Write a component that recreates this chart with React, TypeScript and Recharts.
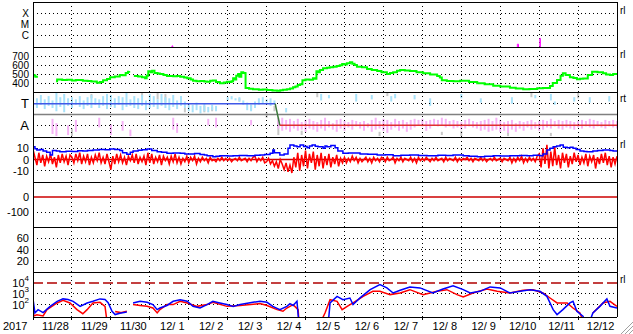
import React from 'react';
import { ComposedChart, Line, Bar, XAxis, YAxis, CartesianGrid, ReferenceLine } from 'recharts';

// ---------- axis / tick data ----------
const DAY_LABELS = ['11/28', '11/29', '11/30', '12/ 1', '12/ 2', '12/ 3', '12/ 4', '12/ 5', '12/ 6', '12/ 7', '12/ 8', '12/ 9', '12/10', '12/11', '12/12'];
const YEAR_LABEL = '2017';
const DAY_LINES = [1, 2, 3, 4, 5, 6, 7, 8, 9, 10, 11, 12, 13, 14];
const LABEL_DAYS = [0.5, 1.5, 2.5, 3.5, 4.5, 5.5, 6.5, 7.5, 8.5, 9.5, 10.5, 11.5, 12.5, 13.5, 14.5];
const SIDE_LABELS = ['rl', 'rl', 'rt', 'rl', 'rl'];

// ---------- panel 1: X-ray class (log10 flux) ----------
const XRAY_TICKS = [-4, -5, -6];
const XRAY_NAMES: Record<string, string> = { '-4': 'X', '-5': 'M', '-6': 'C' };
const XRAY: [number, number | null][] = [
  [3.57, -7.5], [3.57, -6.9], [3.59, -6.9], [3.59, -7.5], [3.6, null],
  [12.44, -7.5], [12.44, -6.75], [12.47, -6.75], [12.47, -7.5], [12.5, null],
  [13.02, -7.5], [13.02, -6.23], [13.03, -6.23], [13.03, -7.5],
];

// ---------- panel 2: solar wind speed ----------
const SPEED_TICKS = [700, 600, 500, 400];
const SPEED: [number, number | null][] = [
  [0, 490], [0.03, 482], [0.06, 470], [0.1, 458], [0.11, null],
  [0.59, 420], [0.62, 438], [0.75, 432], [0.87, 436], [1.0, 428], [1.1, 432], [1.28, 426], [1.4, 422], [1.5, 418], [1.64, 404], [1.72, 410], [1.8, 430], [1.9, 445], [1.98, 463], [2.1, 472], [2.23, 489], [2.3, 486], [2.38, 510], [2.44, 526], [2.47, 532], [2.48, null],
  [2.59, 478], [2.7, 472], [2.8, 465], [2.88, 452], [2.92, 480], [2.96, 530], [3.02, 520], [3.06, 537], [3.12, 512], [3.2, 505], [3.26, 500], [3.35, 490], [3.44, 478], [3.6, 475], [3.7, 478], [3.78, 470], [3.88, 462], [3.96, 452], [4.05, 440], [4.11, 426], [4.2, 420], [4.3, 422], [4.4, 418], [4.47, 415], [4.55, 425], [4.62, 428], [4.7, 410], [4.8, 396], [4.9, 405], [4.98, 415], [5.05, 412], [5.1, 420], [5.14, 452], [5.18, 440], [5.22, 480], [5.27, 500], [5.3, 470], [5.35, 520], [5.4, 510], [5.45, 507], [5.46, 345], [5.55, 335], [5.65, 330], [5.8, 325], [5.9, 328], [6.01, 322], [6.15, 318], [6.27, 315], [6.35, 320], [6.42, 325], [6.52, 330], [6.6, 340], [6.68, 352], [6.74, 360], [6.8, 378], [6.86, 385], [6.92, 430], [7.0, 440], [7.1, 435], [7.19, 452], [7.24, 448], [7.28, 530], [7.32, 520], [7.37, 545], [7.45, 563], [7.55, 570], [7.62, 575], [7.71, 581], [7.8, 590], [7.88, 598], [7.94, 611], [8.0, 605], [8.06, 620], [8.14, 630], [8.2, 615], [8.26, 600], [8.32, 581], [8.45, 575], [8.58, 556], [8.7, 545], [8.84, 533], [8.95, 520], [9.09, 500], [9.17, 510], [9.25, 520], [9.35, 535], [9.43, 544], [9.55, 538], [9.68, 533], [9.85, 520], [10.02, 507], [10.2, 495], [10.38, 478], [10.45, 460], [10.5, 430], [10.63, 422], [10.8, 420], [10.97, 425], [11.2, 410], [11.41, 396], [11.6, 385], [11.82, 370], [12.0, 362], [12.25, 348], [12.4, 340], [12.59, 330], [12.75, 333], [12.95, 341], [13.1, 345], [13.28, 367], [13.35, 400], [13.46, 433], [13.55, 480], [13.61, 507], [13.68, 490], [13.79, 463], [13.88, 455], [13.97, 441], [14.05, 448], [14.13, 450], [14.25, 490], [14.36, 526], [14.5, 520], [14.64, 507], [14.72, 495], [14.82, 489], [14.9, 500], [15.0, 495],
];

// ---------- panel 3: sector polarity (T / A) ----------
const SECTOR_TICKS = [1, -1];
const SECTOR_NAMES: Record<string, string> = { '1': 'T', '-1': 'A' };
const SECTOR_SWITCH = [6.22, 6.34];
const CYAN: [number, number, number][] = [
  [0.0, 0.7, 1.7], [0.1, 0.6, 1.5], [0.2, 0.9, 1.8], [0.3, 0.5, 1.4], [0.4, 0.8, 1.7], [0.5, 0.6, 1.3], [0.6, 0.3, 2.0], [0.7, 0.7, 1.6], [0.8, 0.2, 1.9], [0.9, 0.8, 1.5],
  [1.0, 0.6, 1.6], [1.1, 0.9, 1.4], [1.2, 0.7, 1.7], [1.3, 0.5, 1.3], [1.4, 0.8, 1.6], [1.5, 0.6, 1.8], [1.6, 0.9, 1.5], [1.7, 0.6, 1.4], [1.8, 0.8, 1.7], [1.9, 0.5, 1.9],
  [2.0, 0.7, 1.8], [2.1, 0.6, 1.5], [2.2, 0.9, 1.7], [2.3, 0.4, 1.6], [2.4, 0.7, 2.0], [2.5, 0.8, 1.4], [2.6, 0.6, 1.7], [2.7, 0.5, 1.5], [2.8, 0.8, 1.8], [2.9, 0.4, 1.3],
  [3.0, 0.6, 1.9], [3.1, 0.7, 1.7], [3.2, 0.5, 1.4], [3.3, 0.8, 1.9], [3.4, 0.6, 1.6], [3.5, 0.4, 1.5], [3.6, 0.7, 1.8], [3.7, 0.5, 1.3], [3.8, 0.8, 1.7], [3.9, 0.6, 1.2],
  [4.0, 0.3, 1.0], [4.1, 0.2, 0.9], [4.2, 0.4, 1.1], [4.3, 0.1, 0.8], [4.4, 0.3, 1.0], [4.5, 0.2, 0.7], [4.6, 0.4, 0.9], [4.7, 0.3, 0.8],
  [5.0, 1.3, 1.6], [5.1, 1.4, 1.7], [5.2, 1.3, 1.5], [5.3, 1.2, 1.6], [5.4, 0.9, 1.3], [5.5, 0.4, 1.1], [5.6, 0.3, 0.9], [5.7, 0.6, 1.2], [5.8, 0.9, 1.5], [5.9, 1.0, 1.6],
  [6.0, 1.1, 1.4], [6.1, 0.8, 1.5], [6.2, 1.0, 1.3], [6.5, 0.2, 0.6], [7.4, 1.3, 1.9], [7.6, 1.5, 1.8], [8.3, 1.2, 1.9], [8.7, 1.4, 1.8], [9.2, 1.2, 1.7], [9.3, 1.5, 1.9],
  [9.8, 1.4, 1.8], [10.2, 0.8, 1.5], [11.0, 1.5, 1.9], [11.5, 1.1, 1.5], [12.3, 1.0, 1.6], [12.9, 1.5, 1.8], [13.3, 1.3, 1.9], [13.4, 0.9, 1.2], [13.9, 1.2, 1.6], [14.3, 1.1, 1.6], [14.8, 1.2, 1.7],
];
const PINK_SPARSE: [number, number, number][] = [
  [0.5, -1.8, -0.4], [0.6, -2.0, -0.8], [0.9, -1.9, -1.0], [1.1, -1.6, -0.5], [1.7, -1.2, -0.3], [2.0, -1.9, -0.9], [2.3, -1.5, -0.6], [2.5, -2.0, -1.4],
  [3.6, -1.4, -0.3], [3.7, -1.7, -0.8], [4.5, -1.0, -0.4], [4.7, -1.2, -0.3], [5.6, -1.0, -0.5], [6.3, -1.3, -0.3],
];
const PINK_BAND_START = 6.4;
const PINK_BAND: [number, number][] = [
  [-1.5, -0.3], [-1.4, -0.5], [-1.6, -0.4], [-1.3, -0.6], [-1.5, -0.4], [-1.4, -0.7], [-1.6, -0.5], [-1.3, -0.4], [-1.4, -0.6], [-1.6, -0.7],
  [-1.3, -0.5], [-1.5, -0.3], [-1.2, -0.6], [-1.4, -0.8], [-1.6, -0.5], [-1.3, -0.4], [-1.5, -0.6], [-1.2, -0.7], [-1.4, -0.5], [-1.1, -0.6],
  [-1.3, -0.7], [-1.5, -0.6], [-1.2, -0.8], [-1.6, -0.5], [-1.4, -0.3], [-1.3, -0.6], [-1.5, -0.4], [-1.7, -0.5], [-1.4, -0.7], [-1.2, -0.4],
  [-1.5, -0.6], [-1.3, -0.5], [-1.6, -0.7], [-1.4, -0.5], [-1.2, -0.4], [-1.0, -0.5], [-1.1, -0.4], [-1.5, -0.6], [-1.3, -0.5], [-1.0, -0.4],
  [-1.1, -0.5], [-1.0, -0.3], [-1.2, -0.4], [-1.1, -0.6], [-1.3, -0.5], [-1.2, -0.6], [-1.4, -0.7], [-1.3, -0.5], [-1.1, -0.4], [-1.2, -0.6],
  [-1.3, -0.7], [-1.5, -0.6], [-1.4, -0.5], [-1.6, -0.4], [-1.5, -0.6], [-1.4, -0.3], [-1.6, -0.5], [-1.5, -0.7], [-1.7, -0.6], [-1.4, -0.5],
  [-1.6, -0.8], [-1.3, -0.6], [-1.5, -0.7], [-1.2, -0.6], [-1.4, -0.5], [-1.3, -0.7], [-1.5, -0.6], [-1.4, -0.5], [-1.2, -0.6], [-1.3, -0.4],
  [-1.1, -0.6], [-1.3, -0.5], [-1.4, -0.6], [-1.2, -0.5], [-1.3, -0.6], [-1.4, -0.7], [-1.2, -0.6], [-1.3, -0.5], [-1.1, -0.6], [-1.2, -0.4],
  [-1.3, -0.5], [-1.1, -0.6], [-1.2, -0.7], [-1.3, -0.5], [-1.1, -0.6], [-1.2, -0.5], [-1.3, -0.6],
];
const GRAY: [number, number, number][] = [
  [1.0, -2.0, -1.3], [1.5, 1.5, 1.9], [2.8, 1.6, 2.0], [3.2, 1.4, 2.0], [3.4, 1.1, 1.9], [3.9, 0.2, 0.6], [4.4, 0.2, 0.8], [4.6, 0.3, 0.7],
  [5.3, 1.2, 1.5], [5.6, 0.4, 0.9], [6.0, -0.3, 0.2], [6.2, 0.3, 0.8], [6.3, -1.9, -0.5], [6.9, -1.9, -1.5], [7.3, 1.6, 2.0], [8.9, -2.0, -1.6],
  [9.1, 1.7, 2.0], [10.5, -1.9, -1.6], [11.0, -2.0, -1.5], [12.2, -2.0, -1.6], [12.8, 1.6, 2.0], [13.3, -2.0, -1.7], [14.0, 1.5, 2.0],
];

// ---------- panel 4: IMF Bt / Bz ----------
const IMF_TICKS = [10, 0, -10];
const BT: [number, number][] = [
  [0, 11.4], [0.05, 9.5], [0.1, 8.4], [0.18, 9], [0.26, 7.6], [0.35, 6.5], [0.44, 4], [0.5, 8], [0.6, 7.5], [0.69, 7], [0.85, 7.4], [1.0, 7.2], [1.15, 7.8], [1.28, 7.6], [1.4, 8], [1.54, 8.4], [1.7, 8.8], [1.85, 8.6], [1.98, 9.3], [2.1, 8.8], [2.23, 8], [2.3, 6], [2.41, 4.6], [2.5, 6.5], [2.57, 7.6], [2.7, 8.2], [2.8, 8.6], [2.93, 9.3], [3.05, 8], [3.19, 7], [3.3, 6.5], [3.44, 5.5], [3.6, 5.8], [3.78, 5.5], [3.9, 5], [4.03, 4.9], [4.15, 5.3], [4.29, 4.5], [4.4, 4], [4.47, 3.4], [4.62, 2.5], [4.7, 3], [4.8, 3.4], [5.0, 3.2], [5.14, 3.4], [5.3, 3.6], [5.5, 3.4], [5.7, 3.8], [5.83, 4], [5.95, 4.5], [6.09, 5.5], [6.16, 8.4], [6.2, 6], [6.34, 4], [6.45, 5], [6.55, 10], [6.6, 12.9], [6.7, 12], [6.78, 11.4], [6.86, 12.9], [6.95, 11.5], [7.04, 10.5], [7.1, 12], [7.17, 12.9], [7.25, 11.8], [7.32, 11.4], [7.45, 10], [7.5, 12], [7.55, 11.4], [7.65, 12.5], [7.76, 10.5], [7.83, 7.6], [7.96, 5.5], [8.1, 5.8], [8.4, 5], [8.6, 4.6], [8.84, 4], [9.05, 4.3], [9.25, 3.4], [9.45, 3.8], [9.68, 4], [9.9, 3.6], [10.12, 3.4], [10.4, 3.8], [10.6, 3.5], [10.79, 4], [11.05, 3.4], [11.2, 3], [11.41, 2.5], [11.6, 3], [11.82, 3.4], [12.0, 3.2], [12.25, 3.4], [12.5, 3.6], [12.69, 3.4], [12.85, 3.8], [13.02, 3.4], [13.1, 5], [13.2, 8.4], [13.28, 10], [13.36, 11.4], [13.45, 12], [13.54, 12.9], [13.62, 11], [13.72, 10.5], [13.8, 11], [13.87, 10], [13.95, 9], [14.05, 7.6], [14.15, 7.2], [14.23, 7], [14.38, 7.6], [14.5, 8], [14.64, 8.4], [14.82, 8], [14.9, 7.6], [15, 7],
];
const BZ_STEP = 0.05;
const BZ: number[] = [
  9, 2, -5, 6, -3, 4, -6, 3, -2, 5, -4, 2, -7, 4, -3, 5, -2, 3, -5, 4,
  2, -3, 5, -1, 6, -4, 3, -2, 5, -5, 2, -3, 4, -1, 6, -3, 2, -4, 5, -2,
  -9, 3, -4, 5, -2, 4, -3, 2, -5, 3, -1, 4, -3, 5, -4, 2, -2, 3, -5, 6,
  -3, 5, -4, 2, -2, 4, -5, 3, -1, 2, -4, 3, -2, 5, -3, 2, -4, 1, -2, 3,
  -3, 2, -1, 3, -4, 1, -2, 2, -1, 1, -3, 2, -1, 0, -2, 1, -1, 2, -1, 1,
  -1, 1, -2, 0, 1, -1, 2, -1, 0, 1, -2, 1, -1, 2, 3, -2, 1, -1, 2, -3,
  -2, 1, -4, -1, -6, -2, -8, 0, -4, -9, -3, -11, -5, -12, 2, -7, 6, -10, 4, -6,
  8, -8, 5, -3, 7, -9, 4, -6, 6, -8, 3, -5, 5, -7, 2, -4, 4, -6, 1, -3,
  2, -3, 1, -2, 3, -1, 2, -3, 1, -2, 0, 2, -2, 1, -3, 2, -1, 1, -2, 2,
  1, -2, 2, -1, 0, 2, -3, 1, -1, 2, -2, 1, 0, -1, 2, -2, 1, -3, 2, -1,
  1, -1, 2, 0, -2, 1, -1, 2, -1, 0, 1, -2, 2, -1, 1, 0, -1, 2, -2, 1,
  -1, 1, 0, 2, -1, 1, -2, 1, 0, -1, 2, -1, 1, -2, 0, 1, -1, 2, -1, 0,
  1, -2, 1, 0, -1, 2, -3, 1, -2, 2, -1, 3, -3, 1, -2, 2, -1, 1, -2, 3,
  5, -7, 10, -4, 13, -8, 7, -6, 11, -5, 4, -8, 6, -3, 5, -7, 3, -4, 6, -2,
  4, -5, 2, -3, 5, -6, 3, -2, 4, -8, 2, -4, 5, -3, 6, -5, 3, -7, 2, -4,
  3,
];

// ---------- panel 5 / 6: empty panels ----------
const DST_TICKS = [0, -100];
const KP_TICKS = [60, 40, 20];

// ---------- panel 7: electron flux (log10) ----------
const FLUX_TICKS = [4, 3, 2];
const FLUX_ALERT = 4;
const FLUX_BLUE: [number, number | null][] = [
  [0, 2.55], [0.05, 1.27], [0.13, 1.57], [0.26, 1.3], [0.44, 1.87], [0.62, 2.33], [0.77, 2.55], [0.9, 2.5], [1.03, 2.33], [1.21, 1.87], [1.39, 2.18], [1.54, 2.33], [1.72, 2.55], [1.85, 2.5], [1.93, 2.2], [2.03, 1.42], [2.11, 1.12], [2.23, 1.25], [2.41, 1.35], [2.45, null],
  [2.57, 2.18], [2.75, 2.33], [2.93, 2.25], [3.08, 2.03], [3.19, 1.57], [3.26, 1.72], [3.44, 1.95], [3.6, 2.33], [3.78, 2.48], [3.96, 2.33], [4.11, 1.87], [4.29, 1.73], [4.47, 2.03], [4.62, 2.33], [4.8, 2.18], [4.98, 2.03], [5.14, 1.87], [5.32, 2.03], [5.65, 2.24], [5.83, 2.33], [6.01, 2.24], [6.16, 1.87], [6.34, 1.57], [6.52, 1.87], [6.6, 2.12], [6.68, 1.95], [6.78, 2.33], [6.81, 1.1], [6.83, 0.5], [6.85, null],
  [7.55, 0.5], [7.6, 0.96], [7.63, 2.18], [7.81, 2.78], [7.96, 2.48], [8.14, 2.63], [8.22, 2.03], [8.4, 2.64], [8.66, 3.39], [8.91, 3.85], [9.09, 3.55], [9.25, 3.09], [9.43, 3.33], [9.68, 3.64], [9.94, 3.55], [10.27, 3.09], [10.53, 3.45], [10.79, 3.75], [11.05, 3.39], [11.23, 3.09], [11.48, 3.24], [11.74, 3.64], [12.0, 3.55], [12.25, 3.09], [12.51, 3.24], [12.77, 3.39], [13.02, 3.24], [13.2, 2.78], [13.36, 1.57], [13.46, 1.12], [13.61, 1.57], [13.79, 2.18], [13.87, 2.33], [13.97, 1.42], [14.13, 0.96], [14.15, 0.5], [14.2, null],
  [14.3, 0.5], [14.38, 1.27], [14.56, 1.87], [14.74, 2.55], [14.82, 1.87], [15.0, 1.72],
];
const FLUX_RED: [number, number | null][] = [
  [0, 2.0], [0.02, 1.0], [0.1, 1.1], [0.26, 1.0], [0.36, 1.57], [0.62, 2.18], [0.77, 2.42], [0.95, 2.18], [1.13, 1.57], [1.28, 1.2], [1.39, 1.57], [1.54, 2.18], [1.72, 2.24], [1.85, 1.87], [1.9, 0.5], [1.95, null],
  [2.11, 1.4], [2.25, 1.3], [2.41, 1.42], [2.45, null],
  [2.57, 2.03], [2.75, 1.95], [2.93, 1.87], [3.08, 1.72], [3.19, 1.27], [3.26, 1.57], [3.44, 2.03], [3.6, 2.03], [3.78, 2.33], [3.96, 2.18], [4.21, 1.87], [4.47, 2.03], [4.62, 2.24], [4.98, 1.87], [5.32, 1.95], [5.83, 2.12], [6.01, 1.95], [6.27, 1.57], [6.42, 1.42], [6.52, 1.72], [6.68, 2.03], [6.81, 1.57], [6.83, 0.5], [6.85, null],
  [7.4, 0.5], [7.5, 1.27], [7.63, 2.48], [7.81, 2.33], [7.94, 1.57], [8.07, 1.87], [8.22, 2.18], [8.48, 2.78], [8.73, 3.24], [8.91, 3.24], [9.17, 2.94], [9.43, 3.09], [9.68, 3.39], [10.02, 2.94], [10.38, 3.24], [10.63, 3.39], [10.89, 2.94], [11.05, 2.73], [11.3, 3.09], [11.66, 3.45], [11.92, 3.24], [12.25, 3.09], [12.59, 3.33], [12.84, 3.39], [13.1, 3.09], [13.28, 2.63], [13.46, 2.18], [13.72, 2.18], [13.87, 1.72], [14.05, 1.27], [14.13, 0.5], [14.2, null],
  [14.38, 1.27], [14.64, 2.18], [14.82, 2.33], [15.0, 1.87],
];

// ---------- helpers ----------
const W = 633;
const LEFT = 33;
const RIGHT = 16;
const PH = 45;
const DAYS = 15;
const HALF_DAY_PX = (W - LEFT - RIGHT) / DAYS / 2;
const FONT = '"Liberation Sans", Arial, sans-serif';
const PANEL_TOPS = [2, 47, 92, 137, 182, 227, 272];
const SECTOR_DOMAIN: [number, number] = [-2.08, 2.08];

const rows = (pts: [number, number | null][]) => pts.map(([x, v]) => ({ x, v }));
const bzRows = BZ.map((v, i) => ({ x: +(i * BZ_STEP).toFixed(2), v }));

const keyOf = (d: number) => Math.round(d * 10);
const cyanMap = new Map(CYAN.map(([d, lo, hi]) => [keyOf(d), [lo, hi]]));
const pinkMap = new Map(PINK_SPARSE.map(([d, lo, hi]) => [keyOf(d), [lo, hi]]));
PINK_BAND.forEach((r, i) => pinkMap.set(keyOf(PINK_BAND_START) + i, r));
const grayMap = new Map(GRAY.map(([d, lo, hi]) => [keyOf(d), [lo, hi]]));
const sectorRows = Array.from({ length: DAYS * 10 + 1 }, (_, i) => ({
  x: i / 10,
  cyan: cyanMap.get(i) ?? null,
  pink: pinkMap.get(i) ?? null,
  gray: grayMap.get(i) ?? null,
}));

const yTick = (fmt: (v: number) => React.ReactNode, fontSize = 11) => (props: any) => {
  const { x, y, payload } = props;
  return (
    <text x={x} y={y} textAnchor="end" dominantBaseline="central" fontSize={fontSize} fill="#000" fontFamily={FONT}>
      {fmt(payload.value)}
    </text>
  );
};

const xTick = (props: any) => {
  const { x, y, payload } = props;
  const i = Math.floor(payload.value);
  return (
    <g>
      <line x1={x - HALF_DAY_PX} x2={x - HALF_DAY_PX} y1={y} y2={y + 3} stroke="#000" shapeRendering="crispEdges" />
      <text x={x + 3} y={y + 12.5} textAnchor="middle" fontSize={11} fill="#000" fontFamily={FONT}>{DAY_LABELS[i]}</text>
      {i === 0 ? <text x={3} y={y + 12.5} fontSize={11} fill="#000" fontFamily={FONT}>{YEAR_LABEL}</text> : null}
    </g>
  );
};

const frame = (ymin: number, ymax: number, bottom = false) => [
  <ReferenceLine key="ft" y={ymax} stroke="#000" shapeRendering="crispEdges" />,
  <ReferenceLine key="fl" x={0} stroke="#000" shapeRendering="crispEdges" />,
  <ReferenceLine key="fr" x={DAYS} stroke="#000" shapeRendering="crispEdges" />,
  bottom ? <ReferenceLine key="fb" y={ymin} stroke="#000" shapeRendering="crispEdges" /> : null,
];

type PanelProps = {
  index: number;
  domain: [number, number];
  ticks: number[];
  grid: number[];
  fmt: (v: number) => React.ReactNode;
  fontSize?: number;
  data?: any[];
  bottom?: boolean;
  children?: React.ReactNode;
};

function Panel({ index, domain, ticks, grid, fmt, fontSize, data, bottom, children }: PanelProps) {
  const top = PANEL_TOPS[index];
  const h = PH + 1 + (bottom ? 17 : 1);
  return (
    <div style={{ position: 'absolute', left: 0, top: top - 1 }}>
      <ComposedChart width={W} height={h} data={data} margin={{ top: 1, right: RIGHT, bottom: bottom ? 0 : 1, left: 0 }}>
        <XAxis
          type="number"
          dataKey="x"
          domain={[0, DAYS]}
          allowDataOverflow
          hide={!bottom}
          ticks={LABEL_DAYS}
          interval={0}
          height={17}
          axisLine={false}
          tickLine={false}
          tickSize={0}
          tickMargin={0}
          tick={xTick}
        />
        <YAxis
          type="number"
          domain={domain}
          allowDataOverflow
          ticks={ticks}
          interval={0}
          width={LEFT}
          axisLine={false}
          tickLine={false}
          tickSize={0}
          tickMargin={4}
          tick={yTick(fmt, fontSize)}
        />
        <CartesianGrid
          stroke="#000"
          strokeDasharray="1 3"
          verticalValues={DAY_LINES}
          horizontalValues={grid}
          shapeRendering="crispEdges"
        />
        {children}
        {frame(domain[0], domain[1], bottom)}
      </ComposedChart>
    </div>
  );
}

// one range-bar series per layer, so the streaks are not grouped side by side
function StreakLayer({ dataKey, fill }: { dataKey: string; fill: string }) {
  const top = PANEL_TOPS[2];
  return (
    <div style={{ position: 'absolute', left: 0, top: top - 1 }}>
      <ComposedChart width={W} height={PH + 2} data={sectorRows} margin={{ top: 1, right: RIGHT, bottom: 1, left: LEFT }}>
        <XAxis type="number" dataKey="x" domain={[0, DAYS]} hide allowDataOverflow />
        <YAxis type="number" domain={SECTOR_DOMAIN} hide allowDataOverflow />
        <Bar dataKey={dataKey} fill={fill} barSize={2} isAnimationActive={false} />
      </ComposedChart>
    </div>
  );
}

const pow10 = (v: number) => [
  <tspan key="b">10</tspan>,
  <tspan key="e" dy={-5} fontSize={8}>{v}</tspan>,
];

export default function App() {
  return (
    <div style={{ position: 'absolute', left: 0, top: 0, width: W, height: 334, background: '#fff', fontFamily: FONT, overflow: 'hidden' }}>
      {/* X-ray */}
      <Panel index={0} domain={[-7, -3]} ticks={XRAY_TICKS} grid={XRAY_TICKS} fmt={(v) => XRAY_NAMES[String(v)]} fontSize={10}>
        <Line data={rows(XRAY)} dataKey="v" stroke="#ff00ff" strokeWidth={1} dot={false} isAnimationActive={false} connectNulls={false} />
      </Panel>

      {/* speed */}
      <Panel index={1} domain={[300, 800]} ticks={SPEED_TICKS} grid={SPEED_TICKS} fmt={(v) => v} fontSize={10}>
        <Line data={rows(SPEED)} dataKey="v" type="stepAfter" stroke="#00ff00" strokeWidth={2} dot={false} isAnimationActive={false} connectNulls={false} />
      </Panel>

      {/* sector streaks */}
      <StreakLayer dataKey="gray" fill="#c8c8c8" />
      <StreakLayer dataKey="pink" fill="#f6b2f6" />
      <StreakLayer dataKey="cyan" fill="#a8e2fa" />
      <Panel index={2} domain={SECTOR_DOMAIN} ticks={SECTOR_TICKS} grid={SECTOR_TICKS} fmt={(v) => SECTOR_NAMES[String(v)]} fontSize={13}>
        <ReferenceLine y={0} stroke="#808080" strokeWidth={1.5} />
        <ReferenceLine segment={[{ x: 0, y: 1 }, { x: SECTOR_SWITCH[0], y: 1 }]} stroke="#4058e8" strokeWidth={1.5} />
        <ReferenceLine segment={[{ x: SECTOR_SWITCH[0], y: 1 }, { x: SECTOR_SWITCH[1], y: -1 }]} stroke="#3a7a3a" strokeWidth={1.5} />
        <ReferenceLine segment={[{ x: SECTOR_SWITCH[1], y: -1 }, { x: DAYS, y: -1 }]} stroke="#e03030" strokeWidth={1.5} />
      </Panel>

      {/* IMF */}
      <Panel index={3} domain={[-20, 20]} ticks={IMF_TICKS} grid={[10, -10]} fmt={(v) => v} data={bzRows}>
        <ReferenceLine y={0} stroke="#cc0000" strokeWidth={1.5} />
        <Line dataKey="v" stroke="#ff0000" strokeWidth={1.5} dot={false} isAnimationActive={false} />
        <Line data={rows(BT)} dataKey="v" type="stepAfter" stroke="#0000ff" strokeWidth={1.5} dot={false} isAnimationActive={false} />
      </Panel>

      {/* Dst */}
      <Panel index={4} domain={[-200, 100]} ticks={DST_TICKS} grid={[-100]} fmt={(v) => v}>
        <ReferenceLine y={0} stroke="#cc0000" strokeWidth={1.5} />
      </Panel>

      {/* empty */}
      <Panel index={5} domain={[0, 80]} ticks={KP_TICKS} grid={KP_TICKS} fmt={(v) => v} />

      {/* electron flux */}
      <Panel index={6} domain={[0.9, 5]} ticks={FLUX_TICKS} grid={[3, 2]} fmt={pow10} bottom>
        <ReferenceLine y={FLUX_ALERT} stroke="#b00000" strokeWidth={1.5} strokeDasharray="10 4" />
        <Line data={rows(FLUX_RED)} dataKey="v" stroke="#ff0000" strokeWidth={1.5} dot={false} isAnimationActive={false} connectNulls={false} />
        <Line data={rows(FLUX_BLUE)} dataKey="v" stroke="#0000ff" strokeWidth={1.5} dot={false} isAnimationActive={false} connectNulls={false} />
      </Panel>

      {/* right-side markers */}
      {[12, 56, 100, 146, 281].map((y, i) => (
        <span key={i} style={{ position: 'absolute', left: 620, top: y - 7, fontSize: 10, lineHeight: '12px', color: '#000' }}>{SIDE_LABELS[i]}</span>
      ))}

      {/* window resize grip */}
      <svg style={{ position: 'absolute', left: 619, top: 320 }} width={14} height={14}>
        {[4, 8, 12].map((d) => (
          <line key={d} x1={14 - d} y1={14} x2={14} y2={14 - d} stroke="#a0a0a0" strokeWidth={1} />
        ))}
      </svg>
    </div>
  );
}
